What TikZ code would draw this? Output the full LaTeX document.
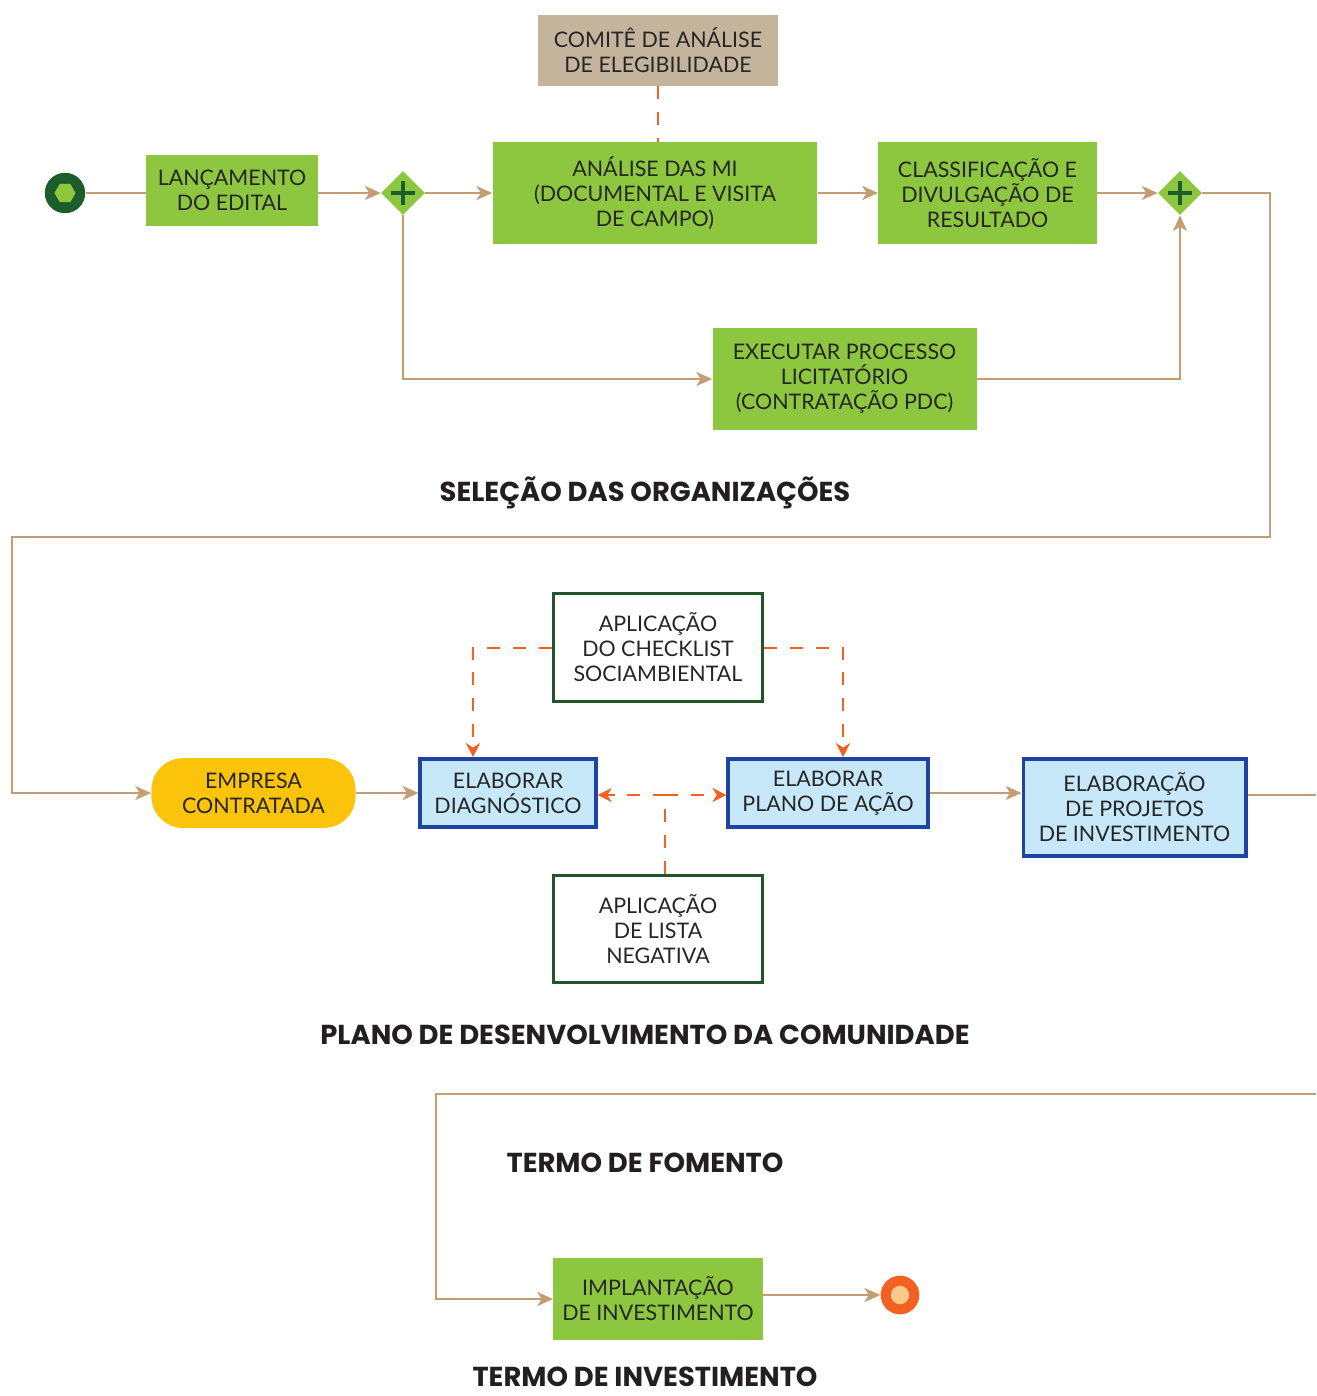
\documentclass[tikz,border=0pt]{standalone}
\usepackage{fontspec}
\setmainfont{Lato}
\newfontfamily\headfont{Poppins}
\usepackage{tikz}
\usetikzlibrary{arrows.meta,shapes.geometric,calc}
\usetikzlibrary{positioning}
\definecolor{clrGreen}{HTML}{8DC63F}
\definecolor{clrDark}{HTML}{1B5E2B}
\definecolor{clrFrame}{HTML}{22552A}
\definecolor{clrTan}{HTML}{C4B49B}
\definecolor{clrLine}{HTML}{C49D72}
\definecolor{clrOrange}{HTML}{F26122}
\definecolor{clrPeach}{HTML}{F9C98A}
\definecolor{clrBlue}{HTML}{1F43A0}
\definecolor{clrSky}{HTML}{C6E8F8}
\definecolor{clrYellow}{HTML}{FCC30B}
\definecolor{clrText}{HTML}{262626}
\definecolor{clrHead}{HTML}{231F20}
\tikzstyle{box_style0}=[anchor=center, align=center, text=clrText,
font=\fontsize{12.2}{14.2}\selectfont, inner sep=0pt]
\tikzstyle{green_box}=[box_style0, fill=clrGreen]
\tikzstyle{tan_box}=[box_style0, fill=clrTan]
\tikzstyle{blue_box}=[box_style0, fill=clrSky, draw=clrBlue, line width=2.2pt]
\tikzstyle{white_box}=[box_style0, fill=white, draw=clrFrame, line width=1.7pt]
\tikzstyle{pill_box}=[box_style0, fill=clrYellow, rounded corners=18pt]
\tikzstyle{gateway}=[diamond, fill=clrGreen, minimum width=25pt, minimum height=25pt, inner sep=0pt]
\tikzstyle{myarrow}=[-{Stealth[length=9pt,width=8pt,inset=2.5pt]}, draw=clrLine, line width=1.1pt]
\tikzstyle{line}=[draw=clrLine, line width=1.1pt]
\tikzstyle{dasharrow}=[-{Stealth[length=8pt,width=8pt,inset=2.5pt]}, draw=clrOrange, line width=1.2pt, dash pattern=on 7.4pt off 7.3pt]
\tikzstyle{dashline}=[draw=clrOrange, line width=1.2pt, dash pattern=on 7.4pt off 7.3pt]
\tikzstyle{title}=[font=\headfont\bfseries\fontsize{15.6}{17}\selectfont, text=clrHead]

\begin{document}
\begin{tikzpicture}[x=0.02cm, y=-0.02cm]
		\useasboundingbox (0,0) rectangle (1316,1396);

		% selecao das organizacoes
		\begin{scope}
			\node[circle, fill=clrDark, minimum size=23pt, inner sep=0pt] (start) at (65,193) {};
			\node[regular polygon, regular polygon sides=6, fill=clrGreen, minimum size=12pt, inner sep=0pt] (hex) at (start) {};

			\node[green_box, minimum width=172*0.567pt, minimum height=71*0.567pt] (lanc) at (232,190.5) {LANÇAMENTO\\DO EDITAL} ;
			\draw[line] (start) -- (lanc.west |- start) ;

			\node[gateway] (gate1) at (403,193) {} ;
			\draw[myarrow] (lanc.east |- gate1) -- (gate1) ;
			\draw[clrDark, line width=2.4pt] ($(gate1)+(-7pt,0)$) -- ++(14pt,0) ($(gate1)+(0,-7pt)$) -- ++(0,14pt) ;

			\node[green_box, minimum width=326*0.567pt, minimum height=102*0.567pt] (analise) at (655,193) {ANÁLISE DAS MI\\(DOCUMENTAL E VISITA\\DE CAMPO)} ;
			\draw[myarrow] (gate1) -- (analise) ;

			\node[tan_box, minimum width=240*0.567pt, minimum height=71*0.567pt] (comite) at (658,50.5) {COMITÊ DE ANÁLISE\\DE ELEGIBILIDADE} ;
			\draw[dashline] (comite.south -| 658,0) -- (analise.north -| 658,0) ;

			\node[green_box, minimum width=219*0.567pt, minimum height=102*0.567pt] (classif) at (987.5,193) {CLASSIFICAÇÃO E\\DIVULGAÇÃO DE\\RESULTADO} ;
			\draw[myarrow] (analise) -- (classif) ;

			\node[gateway] (gate2) at (1180,193) {} ;
			\draw[myarrow] (classif) -- (gate2) ;
			\draw[clrDark, line width=2.4pt] ($(gate2)+(-7pt,0)$) -- ++(14pt,0) ($(gate2)+(0,-7pt)$) -- ++(0,14pt) ;

			\node[green_box, minimum width=265*0.567pt, minimum height=102*0.567pt] (exec) at (844.5,379) {EXECUTAR PROCESSO\\LICITATÓRIO\\(CONTRATAÇÃO PDC)} ;
			\draw[myarrow] (gate1) |- (exec) ;
			\draw[myarrow] (exec) -| (gate2) ;

			\node[title] (t1) at (645,493) {SELEÇÃO DAS ORGANIZAÇÕES} ;
		\end{scope}

		% plano de desenvolvimento
		\begin{scope}
			\coordinate (c1) at (1270,537) ;
			\coordinate (c2) at (12,537) ;
			\node[pill_box, minimum width=205*0.567pt, minimum height=70*0.567pt] (emp) at (253.5,793) {EMPRESA\\CONTRATADA} ;
			\draw[myarrow] (gate2) -| (c1) -- (c2) |- (emp) ;

			\node[blue_box, minimum width=176*0.567pt, minimum height=68*0.567pt] (diag) at (508,793) {ELABORAR\\DIAGNÓSTICO} ;
			\draw[myarrow] (emp) -- (diag) ;

			\node[blue_box, minimum width=200*0.567pt, minimum height=68*0.567pt] (plano) at (828,793) {ELABORAR\\PLANO DE AÇÃO} ;

			\node[blue_box, minimum width=223*0.567pt, minimum height=97*0.567pt] (proj) at (1134.5,807.5) {ELABORAÇÃO\\DE PROJETOS\\DE INVESTIMENTO} ;
			\draw[myarrow] (plano) -- (proj.west |- plano) ;
			\coordinate (c3) at (1316,795) ;
			\draw[line] (proj.east |- c3) -- (c3) ;

			\node[white_box, minimum width=210*0.567pt, minimum height=109*0.567pt] (check) at (658,647.5) {APLICAÇÃO\\DO CHECKLIST\\SOCIAMBIENTAL} ;
			\coordinate (c7) at (473,648) ;
			\coordinate (c8) at (843,648) ;
			\draw[dasharrow] (check.west |- c7) -- (c7) -- (diag.north -| c7) ;
			\draw[dasharrow] (check.east |- c8) -- (c8) -- (plano.north -| c8) ;

			\node[white_box, minimum width=210*0.567pt, minimum height=108*0.567pt] (lista) at (658,929) {APLICAÇÃO\\DE LISTA\\NEGATIVA} ;
			\coordinate (c4) at (665,795) ;
			\draw[dasharrow] (lista.north -| c4) -- (c4) -- (diag.east |- c4) ;
			\draw[dasharrow] (c4) -- (plano.west |- c4) ;

			\node[title] (t2) at (645,1035) {PLANO DE DESENVOLVIMENTO DA COMUNIDADE} ;
		\end{scope}

		% termo de fomento
		\begin{scope}
			\coordinate (c5) at (1316,1094) ;
			\coordinate (c6) at (436,1094) ;
			\node[title] (t3) at (645,1163) {TERMO DE FOMENTO} ;

			\node[green_box, minimum width=210*0.567pt, minimum height=82*0.567pt] (impl) at (658,1299) {IMPLANTAÇÃO\\DE INVESTIMENTO} ;
			\draw[myarrow] (c5) -- (c6) |- (impl) ;

			\node[circle, fill=clrOrange, minimum size=22pt, inner sep=0pt] (end) at (900,1295) {};
			\node[circle, fill=clrPeach, minimum size=10.5pt, inner sep=0pt] (endin) at (end) {};
			\draw[myarrow] (impl.east |- end) -- (end) ;

			\node[title] (t4) at (645,1377) {TERMO DE INVESTIMENTO} ;
		\end{scope}

	\end{tikzpicture}
\end{document}
